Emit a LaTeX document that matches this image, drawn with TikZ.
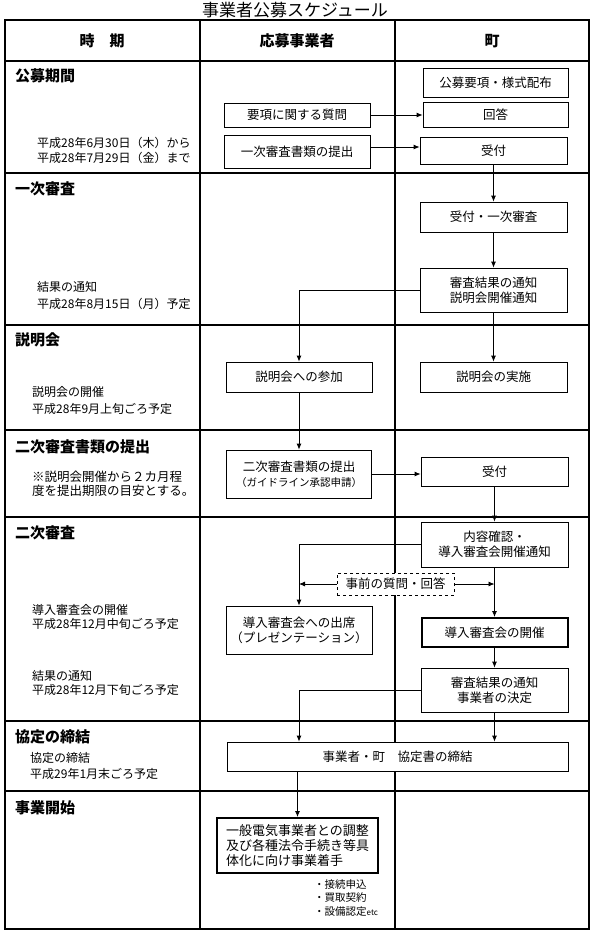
\documentclass[tikz,border=0pt]{standalone}
\usepackage{fontspec}
\setmainfont{Noto Sans CJK JP}
\usetikzlibrary{arrows.meta}
\begin{document}
\begin{tikzpicture}[x=1pt,y=-1pt,
  tbl/.style={line width=1.1pt},
  box/.style={draw, line width=0.8pt, fill=white, inner sep=0pt, align=center, font=\fontsize{12.5}{15}\selectfont},
  thickbox/.style={box, line width=2pt},
  dbox/.style={box, dashed, line width=0.8pt},
  arr/.style={-{Latex[length=6pt,width=5pt]}, line width=0.8pt},
  sec/.style={anchor=west, inner sep=0pt, font=\fontsize{15}{18}\selectfont\bfseries},
  hdr/.style={inner sep=0pt, font=\fontsize{15}{18}\selectfont\bfseries},
  note/.style={anchor=west, inner sep=0pt, align=left, font=\fontsize{12}{#1}\selectfont},
  note/.default=15,
]
\useasboundingbox (0,0) rectangle (595,938);
% title
\node[inner sep=0pt, font=\fontsize{17}{20}\selectfont] (title) at (295,10) {事業者公募スケジュール};
% table
\draw[tbl] (5,20) rectangle (589,929);
\foreach \yy in {61,173,325,430,517,721,791} \draw[tbl] (5,\yy) -- (589,\yy);
\draw[tbl] (200,20) -- (200,929);
\draw[tbl] (395,20) -- (395,929);
% headers
\node[hdr] (h1) at (102,41) {時　期};
\node[hdr] (h2) at (297,41) {応募事業者};
\node[hdr] (h3) at (492,41) {町};
% section labels
\node[sec] (s1) at (15,76) {公募期間};
\node[sec] (s2) at (15,189) {一次審査};
\node[sec] (s3) at (15,340) {説明会};
\node[sec] (s4) at (15,447) {二次審査書類の提出};
\node[sec] (s5) at (15,533) {二次審査};
\node[sec] (s6) at (15,737) {協定の締結};
\node[sec] (s7) at (15,808) {事業開始};
% notes
\node[note=15] (n1) at (37,150.5) {平成28年6月30日（木）から\\平成28年7月29日（金）まで};
\node[note=17] (n2) at (37,295.5) {結果の通知\\平成28年8月15日（月）予定};
\node[note=17] (n3) at (32,400.5) {説明会の開催\\平成28年9月上旬ごろ予定};
\node[note=14, font=\fontsize{12.5}{14}\selectfont] (n4) at (32,483.5) {※説明会開催から２カ月程\\度を提出期限の目安とする。};
\node[note=14.5] (n5) at (32,617) {導入審査会の開催\\平成28年12月中旬ごろ予定};
\node[note=14.5] (n6) at (32,683) {結果の通知\\平成28年12月下旬ごろ予定};
\node[note=16] (n7) at (30,766) {協定の締結\\平成29年1月末ごろ予定};
% boxes
\node[box, minimum width=145pt, minimum height=29pt] (b1) at (495.5,82.5) {公募要項・様式配布};
\node[box, minimum width=146pt, minimum height=24pt] (b2) at (297,115) {要項に関する質問};
\node[box, minimum width=145pt, minimum height=25pt] (b3) at (495.5,115) {回答};
\node[box, minimum width=146pt, minimum height=33pt] (b4) at (297,151.5) {一次審査書類の提出};
\node[box, minimum width=147pt, minimum height=27pt] (b5) at (493.5,150.5) {受付};
\node[box, minimum width=147pt, minimum height=30pt] (b6) at (493.5,217) {受付・一次審査};
\node[box, minimum width=147pt, minimum height=44pt] (b7) at (493.5,290) {審査結果の通知\\説明会開催通知};
\node[box, minimum width=146pt, minimum height=30pt] (b8) at (299,377) {説明会への参加};
\node[box, minimum width=147pt, minimum height=30pt] (b9) at (493.5,377) {説明会の実施};
\node[box, minimum width=145pt, minimum height=48pt] (b10) at (299,474) {二次審査書類の提出\\{\fontsize{10.5}{13}\selectfont（ガイドライン承認申請）}};
\node[box, minimum width=147pt, minimum height=29pt] (b11) at (494.5,472) {受付};
\node[box, minimum width=147pt, minimum height=45pt] (b12) at (494.5,544.5) {内容確認・\\導入審査会開催通知};
\node[box, minimum width=146pt, minimum height=48pt] (b14) at (299,630) {導入審査会への出席\\（プレゼンテーション）};
\node[thickbox, minimum width=146pt, minimum height=29pt] (b15) at (494.5,632.5) {導入審査会の開催};
\node[box, minimum width=147pt, minimum height=44pt] (b16) at (494.5,690) {審査結果の通知\\事業者の決定};
\node[box, minimum width=341pt, minimum height=29pt] (b17) at (397.5,756.5) {事業者・町　協定書の締結};
\node[thickbox, minimum width=161pt, minimum height=55pt, align=left, font=\fontsize{13}{15}\selectfont] (b18) at (297.5,845.5) {一般電気事業者との調整\\及び各種法令手続き等具\\体化に向け事業着手};
\node[inner sep=0pt, anchor=north west, align=left, font=\fontsize{10.5}{13.5}\selectfont] (bl) at (314,879) {・接続申込\\・買取契約\\・設備認定{\fontsize{8}{10}\selectfont etc}};
% connectors
\draw[arr] (b2.east) -- (b2.east -| b3.west);
\draw[arr] ([yshift=4.5pt]b4.east) -- ([yshift=4.5pt]b4.east -| b5.west);
\draw[arr] (b5.south) -- (b6.north);
\draw[arr] (b6.south) -- (b7.north);
\draw[arr] (b7.west) -| (b8.north);
\draw[arr] (b7.south) -- (b9.north);
\draw[arr] (b8.south) -- (b10.north);
\draw[arr] (b10.east) -- (b10.east -| b11.west);
\draw[arr] (b11.south) -- (b11.south |- b12.north);
\draw[arr] (b12.west) -| (b14.north);
\draw[arr] (b12.south) -- (b15.north);
\draw[arr] (b15.south) -- (b16.north);
\draw[arr] (b16.west) -| (b17.north -| b14.south);
\draw[arr] (b16.south) -- (b16.south |- b17.north);
\draw[arr] (b17.south -| b18.north) -- (b18.north);
% dashed box with double arrow
\node[dbox, minimum width=117pt, minimum height=22pt] (b13) at (395.5,584) {事前の質問・回答};
\draw[arr] (b13.west) -- (b13.west -| b14.north);
\draw[arr] (b13.east) -- (b13.east -| b15.north);
\end{tikzpicture}
\end{document}
